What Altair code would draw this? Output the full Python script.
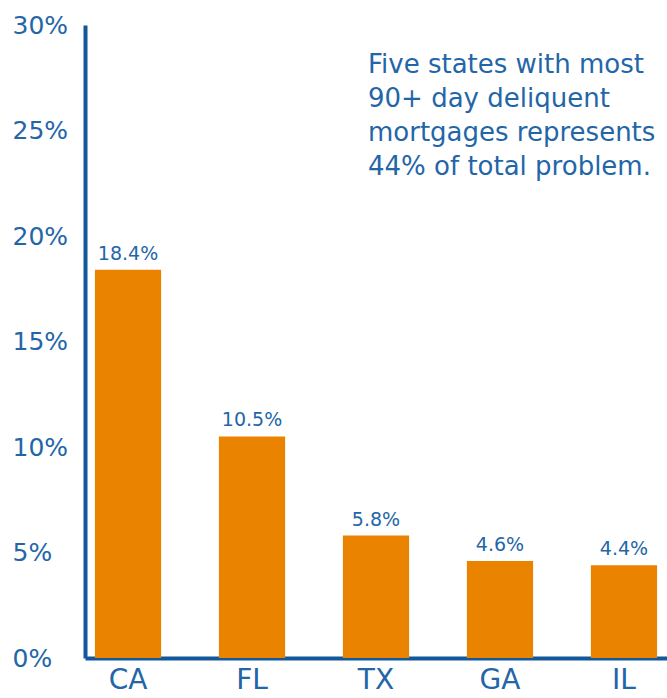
import altair as alt
import pandas as pd

states = ["CA", "FL", "TX", "GA", "IL"]
values = [18.4, 10.5, 5.8, 4.6, 4.4]
labels = ["18.4%", "10.5%", "5.8%", "4.6%", "4.4%"]
y_ticks = [0, 5, 10, 15, 20, 25, 30]
note_lines = ["Five states with most", "90+ day deliquent",
              "mortgages represents", "44% of total problem."]

df = pd.DataFrame({"state": states, "value": values, "label": labels})

BLUE = "#2366A8"
AXIS = "#12599B"
ORANGE = "#E98300"
FONT = "DejaVu Sans"

x_enc = alt.X("state:N", sort=states,
              scale=alt.Scale(paddingInner=0.466, paddingOuter=0.08),
              axis=alt.Axis(title=None, labelAngle=0, labelFontSize=28,
                            labelColor=BLUE, labelFont=FONT, ticks=False,
                            labelPadding=8, domainColor=AXIS, domainWidth=4))
y_enc = alt.Y("value:Q", scale=alt.Scale(domain=[0, 30], nice=False),
              axis=alt.Axis(title=None, values=y_ticks, grid=False, ticks=False,
                            labelExpr="datum.value + '%'", labelFontSize=25,
                            labelColor=BLUE, labelFont=FONT, labelAlign="left",
                            labelPadding=73, domainColor=AXIS, domainWidth=4))

bars = alt.Chart(df).mark_bar(color=ORANGE).encode(x=x_enc, y=y_enc)

text = alt.Chart(df).mark_text(baseline="bottom", dy=-6, fontSize=19,
                               color=BLUE, font=FONT).encode(
    x=alt.X("state:N", sort=states), y="value:Q", text="label:N")

note = alt.Chart(pd.DataFrame({"t": [note_lines]})).mark_text(
    align="left", baseline="top", fontSize=26, lineHeight=34,
    color=BLUE, font=FONT).encode(
    x=alt.value(283), y=alt.value(27), text="t")

chart = alt.layer(bars, text, note).properties(
    width=582, height=633,
    autosize=alt.AutoSizeParams(type="none"),
    padding={"left": 85, "top": 25, "right": 0, "bottom": 40},
).configure(background="white").configure_view(stroke=None)

chart.save("out.html", embed_options={"renderer": "svg", "actions": False})
